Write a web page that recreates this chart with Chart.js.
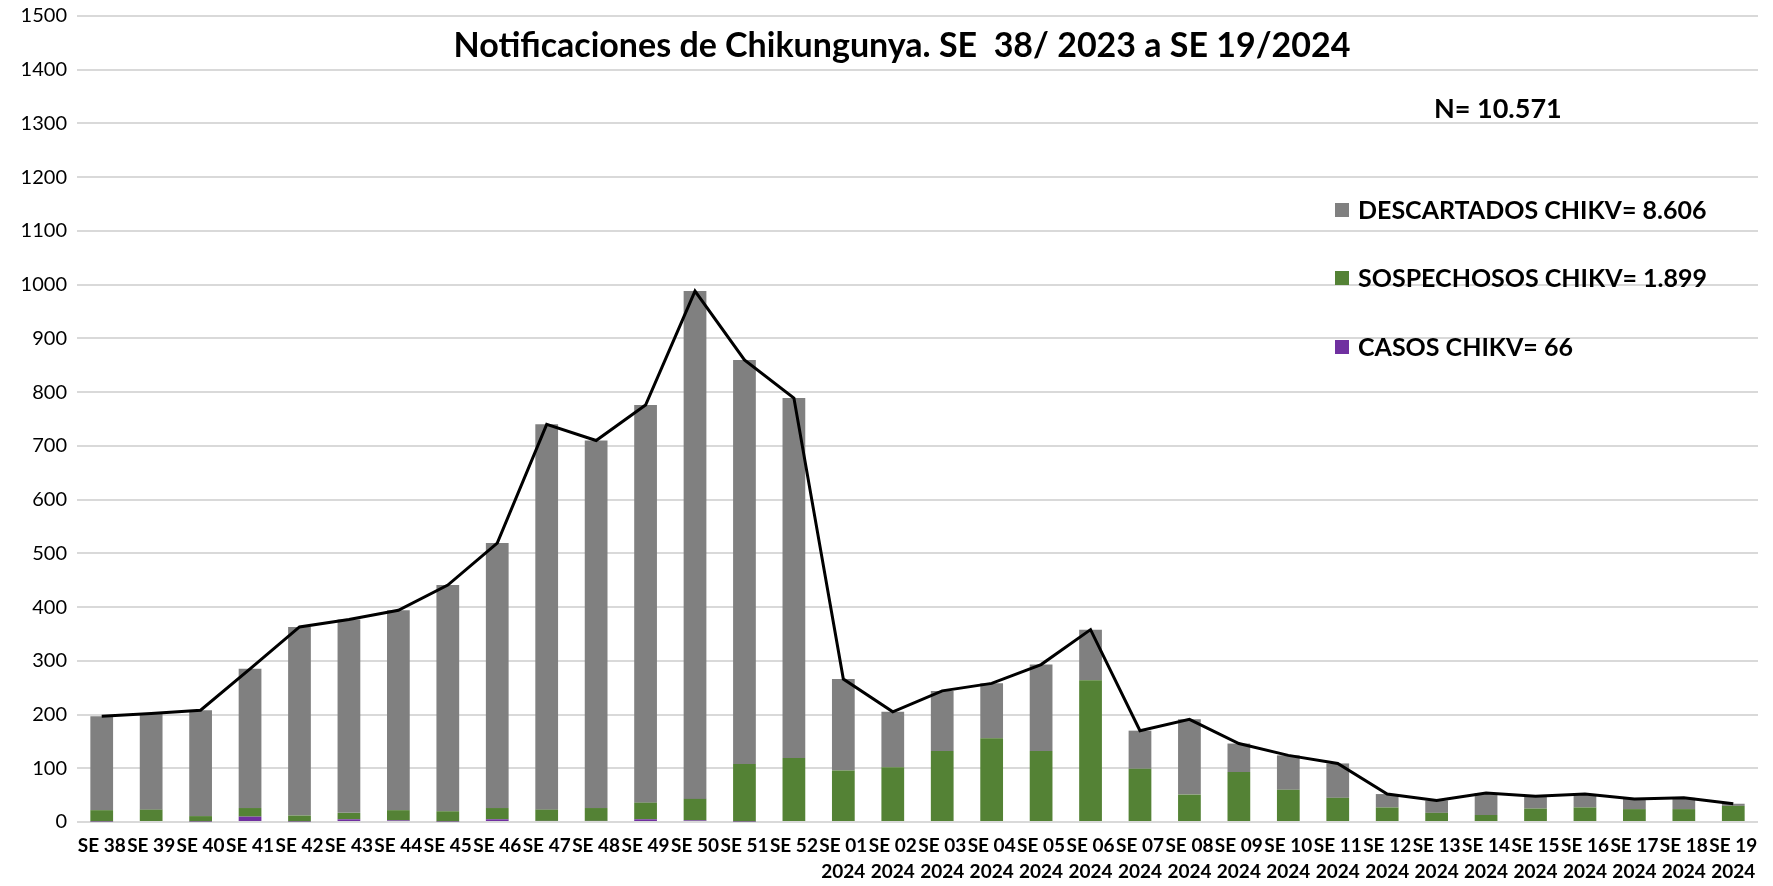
<!DOCTYPE html>
<html>
<head>
<meta charset="utf-8">
<script src="https://cdn.jsdelivr.net/npm/chart.js@4.4.0/dist/chart.umd.min.js"></script>
<style>
  body { margin: 0; background: #fff; }
  #wrap { position: relative; width: 1773px; height: 886px; font-family: Lato, "Open Sans", sans-serif; }
  #wrap canvas { position: absolute; left: 0; top: 0; }
  .txt { position: absolute; font-weight: bold; color: #000; white-space: nowrap; line-height: 1; }
  #title { left: 0; width: 1804px; top: 27px; text-align: center; font-size: 34px; }
  #total { left: 1434px; top: 94px; font-size: 27px; }
  .leg { position: absolute; left: 1335px; font-size: 25px; font-weight: bold; white-space: nowrap; line-height: 1; }
  .leg i { display: inline-block; width: 14px; height: 14px; margin-right: 9px; vertical-align: 2px; }
</style>
</head>
<body>
<div id="wrap">
  <canvas id="chart" width="1773" height="886"></canvas>
  <div class="txt" id="title">Notificaciones de Chikungunya. SE&nbsp; 38/ 2023 a SE 19/2024</div>
  <div class="txt" id="total">N= 10.571</div>
  <div class="leg" style="top:197px"><i style="background:#808080"></i>DESCARTADOS CHIKV= 8.606</div>
  <div class="leg" style="top:265px"><i style="background:#548235"></i>SOSPECHOSOS CHIKV= 1.899</div>
  <div class="leg" style="top:334px"><i style="background:#7030a0"></i>CASOS CHIKV= 66</div>
</div>
<script>
const weeks = [
  'SE 38', 'SE 39', 'SE 40', 'SE 41', 'SE 42', 'SE 43', 'SE 44', 'SE 45', 'SE 46', 'SE 47',
  'SE 48', 'SE 49', 'SE 50', 'SE 51', 'SE 52',
  ['SE 01', '2024'], ['SE 02', '2024'], ['SE 03', '2024'], ['SE 04', '2024'], ['SE 05', '2024'],
  ['SE 06', '2024'], ['SE 07', '2024'], ['SE 08', '2024'], ['SE 09', '2024'], ['SE 10', '2024'],
  ['SE 11', '2024'], ['SE 12', '2024'], ['SE 13', '2024'], ['SE 14', '2024'], ['SE 15', '2024'],
  ['SE 16', '2024'], ['SE 17', '2024'], ['SE 18', '2024'], ['SE 19', '2024'],
];

const casos = [1, 0, 1, 10, 1, 5, 3, 1, 5, 2, 2, 5, 3, 1, 0,
  0, 0, 0, 0, 0, 0, 0, 0, 0, 0, 0, 0, 0, 0, 0, 0, 0, 0, 0];

const sospechosos = [21, 23, 10, 16, 11, 12, 19, 19, 21, 21, 24, 31, 40, 107, 119,
  96, 102, 132, 156, 132, 264, 99, 51, 93, 60, 45, 27, 17, 13, 25, 27, 24, 24, 30];

const descartados = [175, 179, 197, 259, 351, 360, 372, 421, 493, 717, 684, 740, 945, 752, 670,
  170, 103, 112, 102, 161, 94, 71, 140, 53, 64, 64, 25, 23, 41, 23, 25, 19, 21, 4];

// total notificaciones (linea negra)
const totales = [197, 202, 208, 285, 363, 377, 394, 441, 519, 740, 710, 776, 988, 860, 789,
  266, 205, 244, 258, 293, 358, 170, 191, 146, 124, 109, 52, 40, 54, 48, 52, 43, 45, 34];

const barOpts = {
  type: 'bar',
  stack: 'notif',
  barPercentage: 0.46,
  categoryPercentage: 1,
  order: 1,
};

new Chart(document.getElementById('chart'), {
  type: 'bar',
  data: {
    labels: weeks,
    datasets: [
      { ...barOpts, label: 'CASOS CHIKV', data: casos, backgroundColor: '#7030a0' },
      { ...barOpts, label: 'SOSPECHOSOS CHIKV', data: sospechosos, backgroundColor: '#548235' },
      { ...barOpts, label: 'DESCARTADOS CHIKV', data: descartados, backgroundColor: '#808080' },
      {
        type: 'line',
        label: 'Total',
        stack: 'total',
        data: totales,
        borderColor: '#000',
        borderWidth: 3,
        pointRadius: 0,
        tension: 0,
        order: 0,
      },
    ],
  },
  options: {
    responsive: false,
    animation: false,
    layout: { autoPadding: false, padding: { top: 16, right: 15, bottom: 0, left: 0 } },
    plugins: {
      legend: { display: false },
      tooltip: { enabled: false },
    },
    scales: {
      x: {
        stacked: true,
        grid: { display: false, drawTicks: false },
        border: { display: false },
        ticks: {
          autoSkip: false,
          maxRotation: 0,
          padding: 11,
          color: '#000',
          font: { family: 'Lato', size: 19, weight: 'bold', lineHeight: 1.37 },
        },
        afterFit(scale) {
          scale.height = 64;
          scale.paddingLeft = 0;
          scale.paddingRight = 0;
        },
      },
      y: {
        stacked: true,
        min: 0,
        max: 1500,
        ticks: {
          stepSize: 100,
          padding: 10,
          color: '#000',
          font: { family: 'Lato', size: 20 },
          callback: (v) => String(v),
        },
        grid: { color: '#d9d9d9', lineWidth: 2, drawTicks: false },
        border: { display: false },
        afterFit(scale) {
          scale.width = 77;
          scale.paddingTop = 0;
          scale.paddingBottom = 0;
        },
      },
    },
  },
});
</script>
</body>
</html>
